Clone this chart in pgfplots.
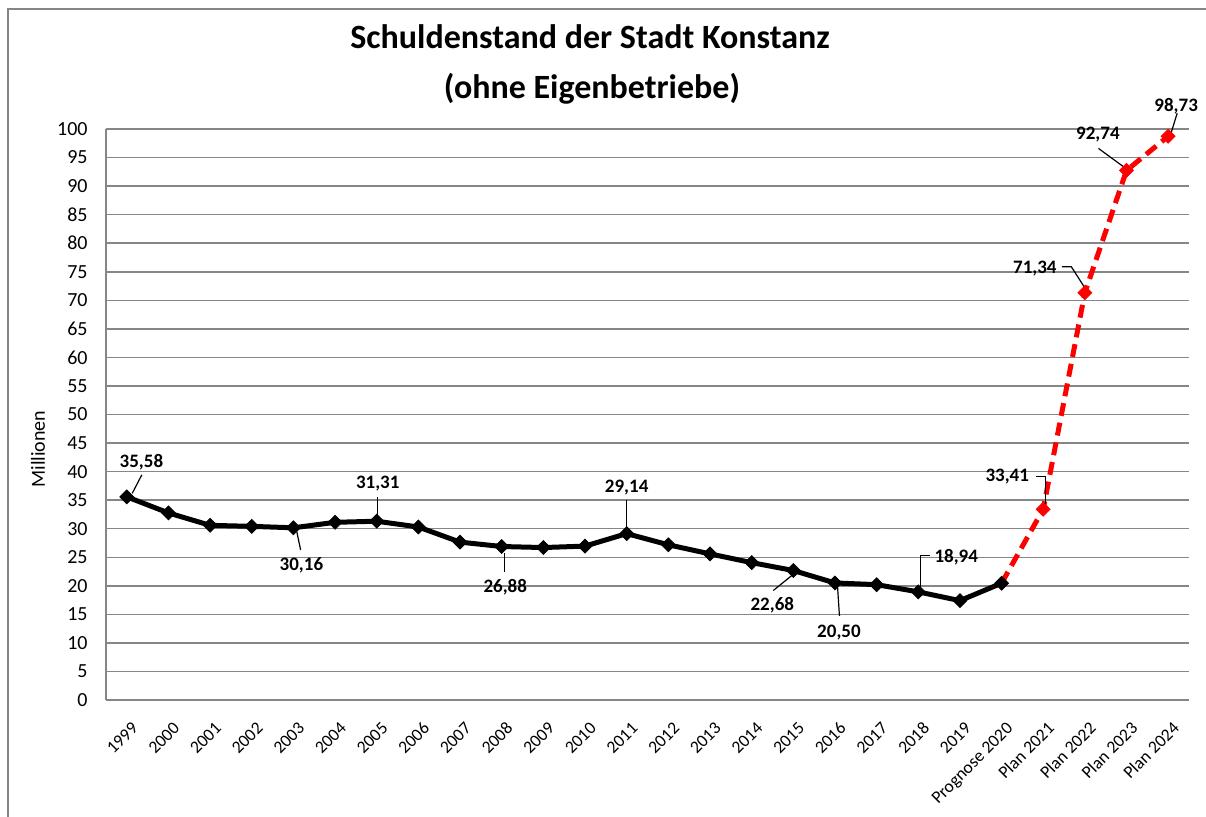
\documentclass[border=0pt]{standalone}
\usepackage{fontspec}
\setmainfont{Carlito}
\usepackage{pgfplots}
\pgfplotsset{compat=1.18}
\definecolor{gridgray}{RGB}{134,134,134}
\definecolor{xred}{RGB}{255,0,0}
\tikzset{lbl/.style={font=\bfseries\fontsize{9.5}{11}\selectfont, inner sep=0pt},
  ldr/.style={black, line width=0.6pt}}
\begin{document}
\begin{tikzpicture}
\useasboundingbox (0,0) rectangle (603pt,408pt);
\draw[gridgray, line width=0.75pt] (4pt,-2pt) -- (4pt,403.5pt) -- (606pt,403.5pt);
\node[anchor=base, font=\bfseries\fontsize{17}{20}\selectfont, inner sep=0pt] at (295pt,383.8pt) {Schuldenstand der Stadt Konstanz};
\node[anchor=base, font=\bfseries\fontsize{17}{20}\selectfont, inner sep=0pt] at (296pt,358.8pt) {(ohne Eigenbetriebe)};
\node[rotate=90, font=\fontsize{10}{12}\selectfont, inner sep=0pt] at (19pt,183.5pt) {Millionen};
\begin{axis}[
  at={(53pt,58pt)}, anchor=south west,
  scale only axis, width=541.5pt, height=285.5pt,
  xmin=-0.5, xmax=25.5, ymin=0, ymax=100,
  ytick={0,5,...,100},
  xtick={0,...,25},
  xticklabels={1999,2000,2001,2002,2003,2004,2005,2006,2007,2008,2009,2010,2011,2012,2013,2014,2015,2016,2017,2018,2019,Prognose 2020,Plan 2021,Plan 2022,Plan 2023,Plan 2024},
  ymajorgrids, grid style={gridgray, line width=0.75pt},
  axis x line*=bottom, axis y line*=left,
  axis line style={gridgray, line width=0.75pt, -},
  major tick length=0pt,
  yticklabel style={font=\fontsize{10}{12}\selectfont, anchor=east, inner sep=0pt, xshift=-9pt},
  xticklabel style={font=\fontsize{8.8}{10}\selectfont, yshift=-10pt, xshift=1.5pt, rotate=45, anchor=north east, inner sep=0pt, text height=0.64em, text depth=0.2em},
  /pgf/number format/assume math mode=true,
  clip=false,
]
\addplot[xred, line width=2.5pt, dash pattern=on 6.5pt off 3.5pt, mark=square*, mark size=2.45pt, mark options={rotate=45, solid, fill=xred, line width=0.4pt}, mark indices={2,3,4,5}]
  coordinates {(21,20.45) (22,33.41) (23,71.34) (24,92.74) (25,98.73)};
\addplot[black, line width=2.5pt, mark=square*, mark size=2.45pt, mark options={rotate=45, solid, fill=black, line width=0.4pt}]
  coordinates {(0,35.58) (1,32.76) (2,30.59) (3,30.41) (4,30.16) (5,31.12) (6,31.31) (7,30.3) (8,27.65) (9,26.88) (10,26.7) (11,26.95) (12,29.14) (13,27.18) (14,25.59) (15,24.06) (16,22.68) (17,20.50) (18,20.2) (19,18.94) (20,17.4) (21,20.45)};
% labels
\node[lbl] at ([shift={(7.3pt,17.5pt)}]axis cs:0,35.58) {35,58};
\draw[ldr] ([shift={(2.7pt,1.75pt)}]axis cs:0,35.58) -- ([shift={(7.5pt,11pt)}]axis cs:0,35.58);
\node[lbl] at ([shift={(4pt,-19pt)}]axis cs:4,30.16) {30,16};
\draw[ldr] ([shift={(1.5pt,-1.1pt)}]axis cs:4,30.16) -- ([shift={(3.6pt,-11.1pt)}]axis cs:4,30.16);
\node[lbl] at ([shift={(0.5pt,19pt)}]axis cs:6,31.31) {31,31};
\draw[ldr] ([shift={(0.5pt,1.5pt)}]axis cs:6,31.31) -- ([shift={(0.5pt,12.25pt)}]axis cs:6,31.31);
\node[lbl] at ([shift={(1.75pt,-20.5pt)}]axis cs:9,26.88) {26,88};
\draw[ldr] ([shift={(1.5pt,-3.25pt)}]axis cs:9,26.88) -- ([shift={(1.5pt,-12.75pt)}]axis cs:9,26.88);
\node[lbl] at ([shift={(0pt,23pt)}]axis cs:12,29.14) {29,14};
\draw[ldr] ([shift={(0pt,1pt)}]axis cs:12,29.14) -- ([shift={(0pt,16.8pt)}]axis cs:12,29.14);
\node[lbl] at ([shift={(-10.5pt,-17.25pt)}]axis cs:16,22.68) {22,68};
\draw[ldr] ([shift={(-10pt,-10pt)}]axis cs:16,22.68) -- ([shift={(0.5pt,-1.5pt)}]axis cs:16,22.68);
\node[lbl] at ([shift={(2pt,-25pt)}]axis cs:17,20.50) {20,50};
\draw[ldr] ([shift={(1.25pt,-1pt)}]axis cs:17,20.50) -- ([shift={(2.25pt,-16.5pt)}]axis cs:17,20.50);
\node[lbl] at ([shift={(19pt,17.5pt)}]axis cs:19,18.94) {18,94};
\draw[ldr] ([shift={(1.2pt,0pt)}]axis cs:19,18.94) -- ([shift={(1.2pt,18pt)}]axis cs:19,18.94) -- ([shift={(5.7pt,18pt)}]axis cs:19,18.94);
\node[lbl] at ([shift={(-18pt,16.25pt)}]axis cs:22,33.41) {33,41};
\draw[ldr] ([shift={(-3.5pt,16.25pt)}]axis cs:22,33.41) -- ([shift={(1pt,16.25pt)}]axis cs:22,33.41) -- ([shift={(1pt,0.5pt)}]axis cs:22,33.41);
\node[lbl] at ([shift={(-25pt,12pt)}]axis cs:23,71.34) {71,34};
\draw[ldr] ([shift={(-11.5pt,13pt)}]axis cs:23,71.34) -- ([shift={(-6.8pt,13pt)}]axis cs:23,71.34) -- ([shift={(0.7pt,1.3pt)}]axis cs:23,71.34);
\node[lbl] at ([shift={(-14.3pt,17.75pt)}]axis cs:24,92.74) {92,74};
\draw[ldr] ([shift={(-14pt,11pt)}]axis cs:24,92.74) -- ([shift={(0.7pt,0.25pt)}]axis cs:24,92.74);
\node[lbl] at ([shift={(4pt,15pt)}]axis cs:25,98.73) {98,73};
\draw[ldr] ([shift={(4.5pt,11.5pt)}]axis cs:25,98.73) -- ([shift={(1.15pt,0.65pt)}]axis cs:25,98.73);
\end{axis}
\end{tikzpicture}
\end{document}
